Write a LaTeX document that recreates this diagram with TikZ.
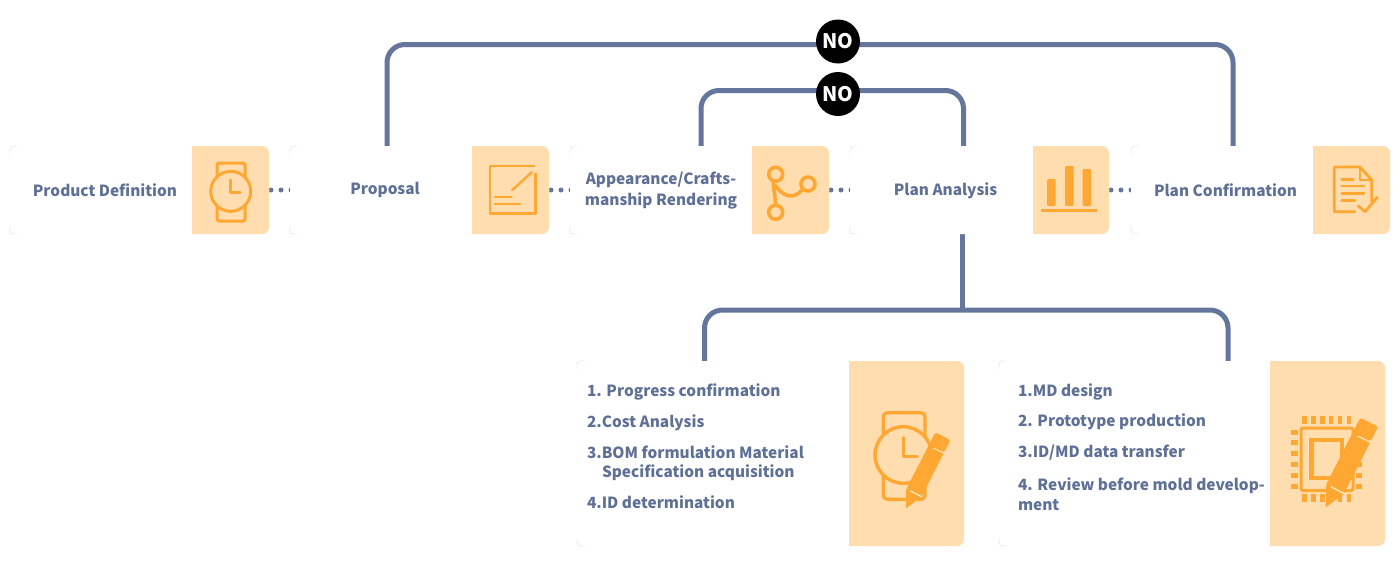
\documentclass[tikz,border=0pt]{standalone}
\usepackage{fontspec}
\setmainfont{Noto Sans CJK SC}
\usetikzlibrary{backgrounds}
\definecolor{linkblue}{HTML}{64769C}
\definecolor{txtblue}{HTML}{5F7096}
\definecolor{panelc}{HTML}{FFDDAE}
\definecolor{iconc}{HTML}{FFA733}
\definecolor{faint}{HTML}{EDEDED}
\definecolor{gapc}{HTML}{FFF1DE}
\tikzset{
  link/.style={draw=linkblue,line width=5pt},
  dotlink/.style={draw=linkblue,line width=5pt,line cap=round,dash pattern=on 0pt off 10pt,dash phase=8pt},
  cardbg/.style={fill=white,rounded corners=8pt,inner sep=0pt,outer sep=0pt},
  label/.style={text=txtblue,font=\fontsize{15.4}{20}\selectfont\bfseries,inner sep=0pt,outer sep=0pt},
  item/.style={label,anchor=west,align=left},
  nobadge/.style={circle,fill=black,minimum size=44pt,inner sep=0pt,text=white,font=\fontsize{20}{20}\selectfont\bfseries},
  ic/.style={draw=iconc,line width=3pt,line cap=round,line join=round},
  icfill/.style={fill=iconc},
}
% name, x1, y1, x2, y2, panel x
\newcommand{\cardbox}[6]{%
  \pgfmathsetmacro{\cw}{#4-#2}\pgfmathsetmacro{\ch}{#5-#3}%
  \pgfmathsetmacro{\cx}{(#2+#4)/2}\pgfmathsetmacro{\cy}{(#3+#5)/2}%
  \node[cardbg,minimum width=\cw pt,minimum height=\ch pt] (#1) at (\cx,\cy) {};
  \draw[faint,line width=0.8pt] ({#2+8},#3) .. controls (#2,#3) .. (#2,{#3+8});
  \draw[faint,line width=0.8pt] ({#2+8},#5) .. controls (#2,#5) .. (#2,{#5-8});
  \fill[panelc] (#6,#3) [rounded corners=7pt] -- (#4,#3) -- (#4,#5) [sharp corners] -- (#6,#5) -- cycle;
}
% tip x, tip y, scale
\newcommand{\pencil}[3]{%
  \begin{scope}[shift={(#1,#2)},x={({0.455pt*#3},{0.89pt*#3})},y={({0.89pt*#3},{-0.455pt*#3})}]
    \fill[iconc] (0,0) -- (17,-8.5) -- (17,8.5) -- cycle;
    \fill[iconc] (18,-8.5) -- (65.5,-8.5) -- (65.5,8.5) -- (18,8.5) -- cycle;
    \fill[iconc,rounded corners=2.5pt] (67,-8.5) -- (81,-8.5) -- (81,8.5) -- (67,8.5) -- cycle;
    \fill[iconc] (67,-8.5) rectangle (72,8.5);
    \fill[iconc] (9,-1) -- (19,-8.5) -- (19,8.5) -- cycle;
    \draw[gapc,line width=1.1pt] (17.5,-4) -- (17.5,8.5);
  \end{scope}
}
\begin{document}
\begin{tikzpicture}[x=1pt,y=-1pt]
\useasboundingbox (0,0) rectangle (1400,584);

% cards
\cardbox{c1}{10}{146}{269}{234}{192}
\cardbox{c2}{290}{146}{549}{234}{472}
\cardbox{c3}{570}{146}{829}{234}{752}
\cardbox{c4}{850}{146}{1109}{234}{1033}
\cardbox{c5}{1131}{146}{1390}{234}{1313}
\cardbox{c6}{577}{361}{964}{546}{849}
\cardbox{c7}{999}{361}{1385}{546}{1270}

% labels
\node[label] (t1) at (105,190) {Product Definition};
\node[label] (t2) at (385,190) {Proposal};
\node[label,align=center] (t3) at (661,190.5) {Appearance/Crafts-\\[0.5pt]manship Rendering};
\node[label] (t4) at (945.5,190.5) {Plan Analysis};
\node[label] (t5) at (1225.5,190) {Plan Confirmation};

\node[item] (a1) at (587,392) {1. Progress confirmation};
\node[item] (a2) at (587,423) {2.Cost Analysis};
\node[item] (a3) at (587,463) {3.BOM formulation Material\\[-1.5pt]\hspace*{15pt}Specification acquisition};
\node[item] (a4) at (587,502.5) {4.ID determination};

\node[item] (b1) at (1018,392) {1.MD design};
\node[item] (b2) at (1018,422) {2. Prototype production};
\node[item] (b3) at (1018,453) {3.ID/MD data transfer};
\node[item] (b4) at (1018,494) {4. Review before mold develop-\\ment};

% NO badges
\node[nobadge] (no1) at (838,41.5) {\raisebox{-1pt}{NO}};
\node[nobadge] (no2) at (838,94) {\raisebox{-1pt}{NO}};

% connector anchors
\coordinate (p2top) at (387,146);
\coordinate (p5top) at (1233,146);
\coordinate (p3top) at (701,146);
\coordinate (p4top) at (963.5,146);
\coordinate (p4bot) at (962.5,234);
\coordinate (junction) at (962.5,310);
\coordinate (p6top) at (704.5,361);
\coordinate (p7top) at (1228,361);

\begin{pgfonlayer}{background}
  \fill[white] (0,0) rectangle (1400,584);
  \draw[link,rounded corners=18pt] (p2top) |- ([yshift=-3pt]no1.center) -| (p5top);
  \draw[link,rounded corners=18pt] (p3top) |- ([yshift=3.5pt]no2.center) -| (p4top);
  \draw[link] (p4bot) -- (junction);
  \draw[link,rounded corners=18pt] (p6top) |- (junction) -| (p7top);
  \draw[dotlink] (c1.east) -- ([xshift=3pt]c2.west);
  \draw[dotlink] (c2.east) -- ([xshift=3pt]c3.west);
  \draw[dotlink] (c3.east) -- ([xshift=3pt]c4.west);
  \draw[dotlink] (c4.east) -- ([xshift=3pt]c5.west);
\end{pgfonlayer}

% icon 1: watch
\draw[ic,rounded corners=1.5pt] (217,163) rectangle (245,221);
\draw[ic,fill=panelc] (230.7,191.3) circle (20);
\draw[ic] (230.7,180) -- (230.7,192.7) -- (240,192.7);

% icon 2: sketch
\draw[ic,line width=2.4pt,line cap=butt] (535.3,166) -- (490,166) -- (490,213.3) -- (535.3,213.3) -- (535.3,173);
\draw[ic,line width=2.4pt] (531.7,172.3) -- (512.3,190);
\draw[ic,line width=2.4pt] (495,196.7) -- (511.7,196.7);
\draw[ic,line width=2.4pt] (495,203.7) -- (520,203.7);

% icon 3: branch
\draw[ic,line width=3.6pt] (775.7,174.3) circle (7);
\draw[ic,line width=3.6pt] (775.7,212.3) circle (7);
\draw[ic,line width=3.6pt] (808,184) circle (7);
\draw[ic,line width=3.6pt] (773.3,181.5) .. controls (773.5,190) and (775.5,197) .. (775.5,205);
\draw[ic,line width=3.6pt] (775,185) .. controls (784,198) and (794,199) .. (802,190);

% icon 4: bars
\fill[icfill,rounded corners=1pt] (1047,179) rectangle (1055.7,206);
\fill[icfill,rounded corners=1pt] (1065,166) rectangle (1073.7,206);
\fill[icfill,rounded corners=1pt] (1082.7,169) rectangle (1091,206);
\draw[ic,line cap=butt] (1041,210.7) -- (1096.7,210.7);

% icon 5: document
\draw[ic,line width=2.8pt] (1355,211.7) -- (1334.3,211.7) -- (1334.3,167) -- (1360,167) -- (1371.7,180) -- (1371.7,201.7);
\draw[ic,line width=2.8pt] (1360,167) -- (1360,180) -- (1371.7,180);
\draw[ic,line width=2.8pt] (1341.7,179.3) -- (1353.3,179.3);
\draw[ic,line width=2.8pt] (1341.7,186) -- (1364,186);
\draw[ic,line width=2.8pt] (1341.7,193.3) -- (1364,193.3);
\draw[ic,line width=2.8pt] (1341.7,200.3) -- (1355,200.3);
\draw[ic,line width=2.8pt] (1358.3,206) -- (1365,211.7) -- (1377.3,197.3);

% icon 6: watch and pencil
\draw[ic,line width=3.4pt,rounded corners=4pt] (883.3,412.7) rectangle (925,499.3);
\draw[ic,line width=3.4pt,fill=panelc] (903.3,455) circle (28.3);
\draw[ic,line width=3.4pt] (903.3,437.7) -- (903.3,456.7) -- (917.3,456.7);
\pencil{906}{508.3}{1}

% icon 7: chip and pencil
\foreach \px in {1304.3,1313.3,1322.3,1331,1340,1349}{
  \fill[iconc] ({\px-2.2},416) rectangle ({\px+2.2},424);
  \fill[iconc] ({\px-2.2},494) rectangle ({\px+2.2},502);
}
\foreach \py in {432,442.7,453.7,464.3,475.3,486}{
  \fill[iconc] (1291,{\py-2.5}) rectangle (1297.7,{\py+2.5});
  \fill[iconc] (1356,{\py-2.5}) rectangle (1362.3,{\py+2.5});
}
\draw[ic,line width=3pt,rounded corners=2pt] (1301,428) rectangle (1353,490.5);
\draw[ic,line width=4.3pt,line cap=butt,line join=miter] (1311.5,440.3) rectangle (1342,478);
\pencil{1325.7}{507.3}{1.18}
\end{tikzpicture}
\end{document}
